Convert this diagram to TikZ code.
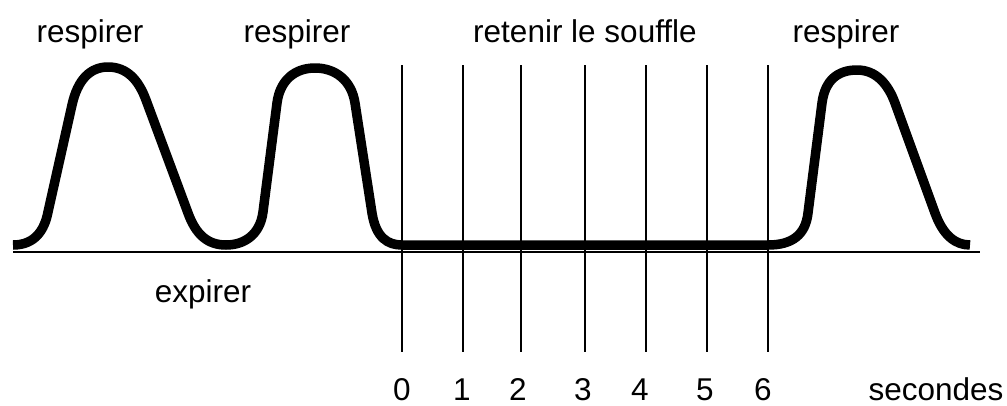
\documentclass[tikz,border=0pt]{standalone}
\usepackage{fontspec}
\setmainfont[Ligatures=NoCommon]{Liberation Sans}
\begin{document}
\begin{tikzpicture}[x=1pt,y=-1pt,
  lbl/.style={anchor=base,inner sep=0pt,font=\fontsize{31.5}{38}\selectfont},
  thin/.style={line width=1.6pt},
  breath/.style={line width=9.5pt,line join=round}]
\useasboundingbox (0,0) rectangle (1007,405);
% labels
\node[lbl] (r1) at (90,42) {respirer};
\node[lbl] (r2) at (297,42) {respirer};
\node[lbl] (hold) at (585,42) {retenir le souffle};
\node[lbl] (r3) at (846,42) {respirer};
\node[lbl] (exp) at (203,302) {expirer};
\node[lbl] (s0) at (402,400) {0};
\node[lbl] (s1) at (462,400) {1};
\node[lbl] (s2) at (518,400) {2};
\node[lbl] (s3) at (583,400) {3};
\node[lbl] (s4) at (640,400) {4};
\node[lbl] (s5) at (705,400) {5};
\node[lbl] (s6) at (763,400) {6};
\node[lbl] (sec) at (936,400) {secondes};
% axis
\draw[thin] (13,252) -- (980,252);
\foreach \x in {402,463,521,585,646,707,768}
  \draw[thin] (\x,65) -- (\x,352);
% breathing curve
\draw[breath] (13,245) .. controls (35,245) and (44.5,230) .. (48,212)
  -- (72,105)
  .. controls (77.5,80) and (90,67) .. (108,67)
  .. controls (127,67) and (138.6,80) .. (146,100)
  -- (188,213)
  .. controls (196,235) and (208,245) .. (226,245)
  .. controls (244,245) and (260,235) .. (263,212)
  -- (277,103)
  .. controls (280,80) and (295,68) .. (315,68)
  .. controls (335,68) and (351.4,80) .. (355,103)
  -- (372,213)
  .. controls (376,238) and (388,245) .. (402,245)
  -- (768,245)
  .. controls (792,245) and (805.5,235) .. (808,213)
  -- (822,103)
  .. controls (825,80) and (838,70) .. (857,70)
  .. controls (876,70) and (888,84) .. (895,103)
  -- (935,213)
  .. controls (943,235) and (955,245) .. (970,245);
\end{tikzpicture}
\end{document}
